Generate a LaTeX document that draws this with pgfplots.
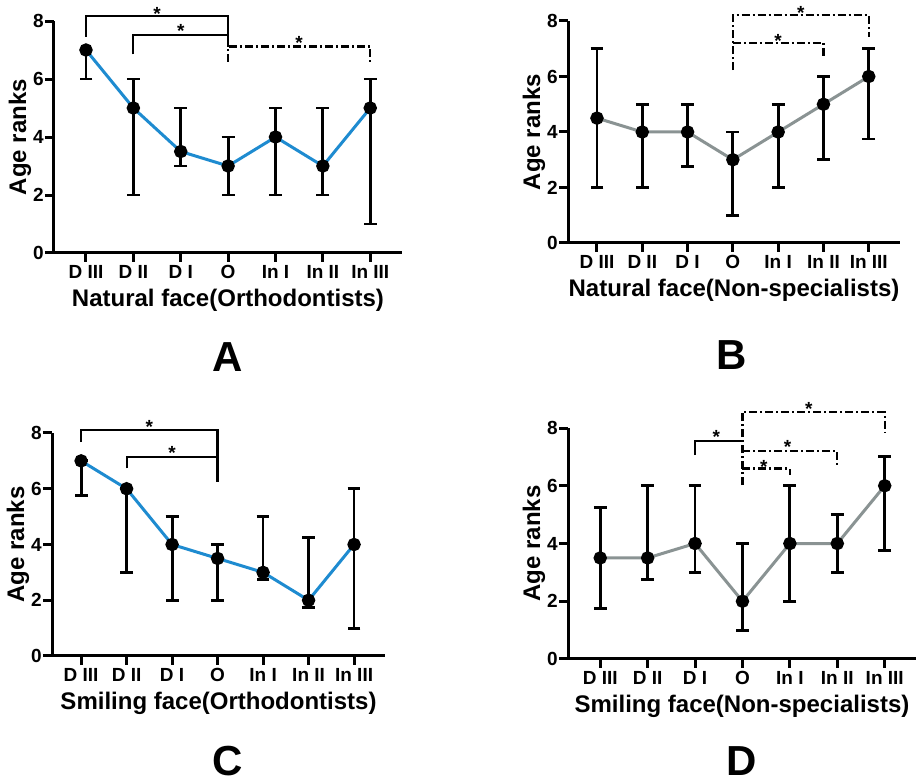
\documentclass[border=0pt]{standalone}
\usepackage{fontspec}
\setmainfont{Liberation Sans}
\usepackage{pgfplots}
\pgfplotsset{compat=1.18}
\definecolor{cBlue}{HTML}{1E8BD0}
\definecolor{cGray}{HTML}{8A9393}

\pgfplotsset{
  panel/.style={
    scale only axis,
    axis x line*=bottom, axis y line*=left,
    axis line style={line width=1.5pt, black},
    ymin=0, ymax=8, ytick={0,2,4,6,8},
    xtick={0,...,6},
    xticklabels={D III, D II, D I, O, In I, In II, In III},
    tick align=outside, major tick length=4.5pt,
    major tick style={line width=1.5pt, black},
    /pgf/number format/assume math mode=true,
    tick label style={font=\fontsize{9.5}{9.5}\selectfont\bfseries},
    yticklabel style={inner sep=0.5pt},
    xticklabel style={inner sep=1.5pt},
    every axis x label/.style={at={(axis description cs:0.5,0)}, yshift=-23.5pt,
      anchor=center, font=\fontsize{12}{12}\selectfont\bfseries},
    every axis y label/.style={at={(axis description cs:0,0.5)}, xshift=-17pt,
      rotate=90, anchor=center, font=\fontsize{12}{12}\selectfont\bfseries},
    ylabel={Age ranks},
    clip=false,
  },
  series/.style={line width=1.5pt, #1, mark=*, mark size=2.6pt,
    mark options={fill=black, draw=black, solid},
    error bars/.cd, y dir=both, y explicit,
    error bar style={line width=1.4pt, black},
    error mark options={rotate=90, mark size=3.2pt, line width=1.4pt, black}},
}
\tikzset{
  brk/.style={line width=1.1pt, black},
  dd/.style={line width=1.1pt, black, dash pattern=on 4pt off 1.5pt on 1pt off 1.5pt},
  star/.style={font=\fontsize{9.5}{9.5}\selectfont\bfseries, yshift=-2pt},
  letter/.style={font=\fontsize{21}{21}\selectfont\bfseries, inner sep=0pt},
}

\begin{document}
\begin{tikzpicture}
\useasboundingbox (0,0) rectangle (458pt,391pt);

% A
\begin{axis}[panel, at={(27pt,264.5pt)}, anchor=south west, width=174pt, height=116pt,
  xmin=-0.675, xmax=6.67, xlabel={Natural face(Orthodontists)}]
\addplot[series=cBlue] table[x=x, y=y, y error plus=ep, y error minus=em] {
x y ep em
0 7 0 1
1 5 1 3
2 3.5 1.5 0.5
3 3 1 1
4 4 1 2
5 3 2 1
6 5 1 4
};
\draw[brk] (axis cs:0,7.45) |- (axis cs:3,8.18) -- (axis cs:3,7.52);
\draw[brk] (axis cs:1,6.85) |- (axis cs:3,7.52) -- (axis cs:3,7.12);
\draw[dd] (axis cs:3,6.6) |- (axis cs:6,7.12) -- (axis cs:6,6.55);
\node[star] at (axis cs:1.5,8.38) {*};
\node[star] at (axis cs:2.0,7.8) {*};
\node[star] at (axis cs:4.5,7.38) {*};
\end{axis}

% B
\begin{axis}[panel, at={(284pt,269.5pt)}, anchor=south west, width=166pt, height=111pt,
  xmin=-0.64, xmax=6.69, xlabel={Natural face(Non-specialists)}]
\addplot[series=cGray] table[x=x, y=y, y error plus=ep, y error minus=em] {
x y ep em
0 4.5 2.5 2.5
1 4 1 2
2 4 1 1.25
3 3 1 2
4 4 1 2
5 5 1 2
6 6 1 2.25
};
\draw[dd] (axis cs:3,6.23) |- (axis cs:6,8.22) -- (axis cs:6,7.43);
\draw[dd] (axis cs:3,7.22) -- (axis cs:5,7.22) -- (axis cs:5,6.65);
\node[star] at (axis cs:4.5,8.43) {*};
\node[star] at (axis cs:4.0,7.42) {*};
\end{axis}

% C
\begin{axis}[panel, at={(26pt,63pt)}, anchor=south west, width=166.5pt, height=111.5pt,
  xmin=-0.64, xmax=6.68, xlabel={Smiling face(Orthodontists)}]
\addplot[series=cBlue] table[x=x, y=y, y error plus=ep, y error minus=em] {
x y ep em
0 7 0 1.25
1 6 0 3
2 4 1 2
3 3.5 0.5 1.5
4 3 2 0.25
5 2 2.25 0.25
6 4 2 3
};
\draw[brk] (axis cs:0,7.67) |- (axis cs:3,8.1) -- (axis cs:3,6.25);
\draw[brk] (axis cs:1,6.73) |- (axis cs:3,7.13);
\node[star] at (axis cs:1.5,8.35) {*};
\node[star] at (axis cs:2.0,7.42) {*};
\end{axis}

% D
\begin{axis}[panel, at={(284pt,61.5pt)}, anchor=south west, width=174pt, height=115.5pt,
  xmin=-0.68, xmax=6.66, xlabel={Smiling face(Non-specialists)}]
\addplot[series=cGray] table[x=x, y=y, y error plus=ep, y error minus=em] {
x y ep em
0 3.5 1.75 1.75
1 3.5 2.5 0.75
2 4 2 1
3 2 2 1
4 4 2 2
5 4 1 1
6 6 1 2.25
};
\draw[brk] (axis cs:2,7.06) |- (axis cs:3,7.54);
\draw[dd] (axis cs:3,6.02) |- (axis cs:6,8.55) -- (axis cs:6,7.82);
\draw[dd] (axis cs:3,7.2) -- (axis cs:5,7.2) -- (axis cs:5,6.71);
\draw[dd] (axis cs:3,6.6) -- (axis cs:4,6.6) -- (axis cs:4,6.37);
\node[star] at (axis cs:2.45,7.82) {*};
\node[star] at (axis cs:4.4,8.79) {*};
\node[star] at (axis cs:3.95,7.47) {*};
\node[star] at (axis cs:3.45,6.78) {*};
\end{axis}

\node[letter] at (114pt,212.5pt) {A};
\node[letter] at (366pt,213.5pt) {B};
\node[letter] at (114pt,10.5pt) {C};
\node[letter] at (371pt,10.5pt) {D};
\end{tikzpicture}
\end{document}
